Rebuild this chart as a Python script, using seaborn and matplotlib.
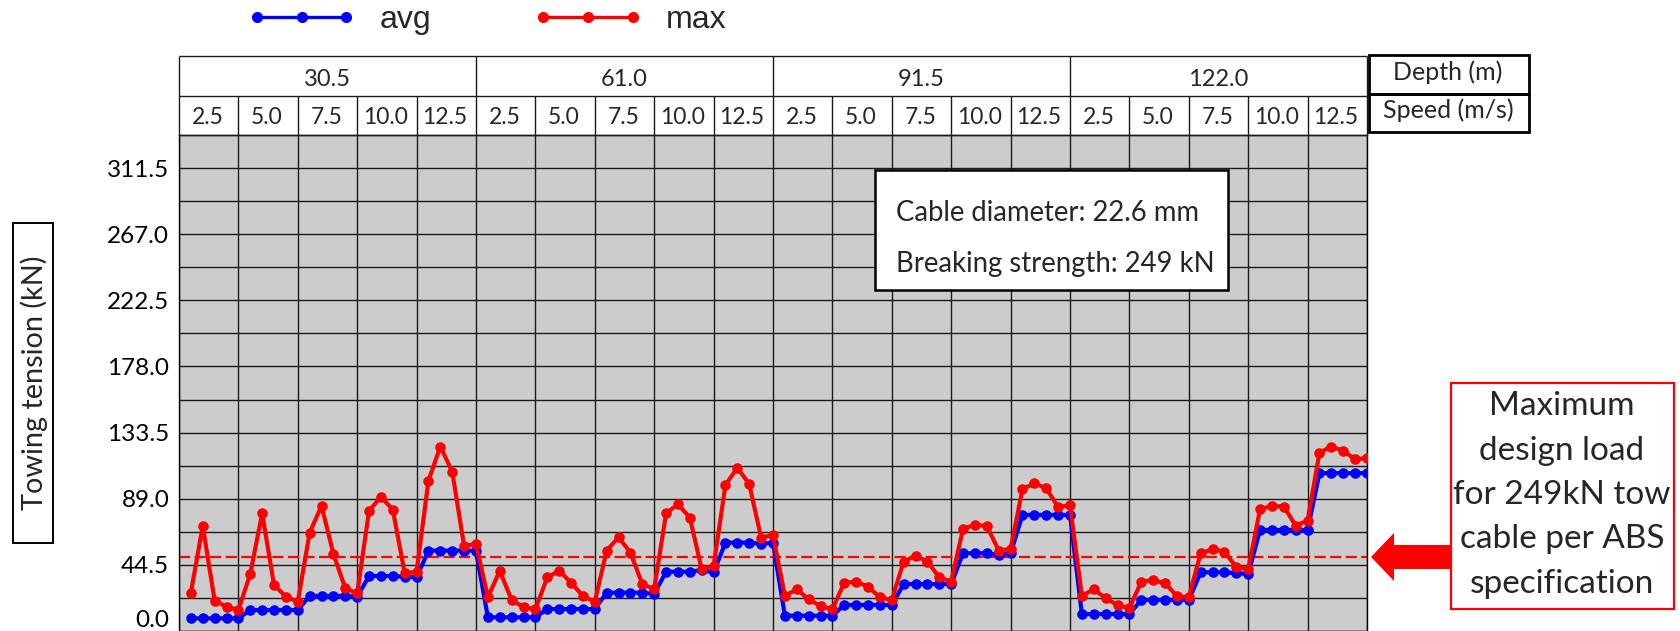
import numpy as np
import pandas as pd
import matplotlib
matplotlib.use("Agg")
import matplotlib.pyplot as plt
import seaborn as sns
from matplotlib.patches import Rectangle, Polygon
from matplotlib.lines import Line2D

# ---------------- data ----------------
depths = ["30.5", "61.0", "91.5", "122.0"]
speeds = ["2.5", "5.0", "7.5", "10.0", "12.5"]
ytick_values = [0.0, 44.5, 89.0, 133.5, 178.0, 222.5, 267.0, 311.5]
design_load = 49.8

avg_30_5 = [8.5, 8.5, 8.5, 8.5, 8.5,
            14.1, 14.1, 14.1, 14.1, 14.1,
            23.6, 23.6, 23.6, 23.6, 23.1,
            37.0, 37.0, 37.0, 36.5, 36.1,
            54.1, 54.1, 54.1, 54.1, 54.1]
avg_61_0 = [9.2, 9.2, 9.2, 9.2, 9.2,
            14.8, 14.8, 14.8, 14.8, 14.8,
            25.8, 25.8, 25.8, 25.8, 24.9,
            39.9, 39.9, 39.9, 41.0, 39.4,
            59.5, 59.5, 59.5, 58.6, 59.5]
avg_91_5 = [10.3, 10.3, 10.3, 10.3, 10.3,
            17.5, 17.5, 17.5, 17.5, 17.5,
            31.6, 31.6, 31.6, 31.6, 31.6,
            52.3, 52.3, 52.3, 51.2, 52.3,
            78.1, 78.1, 78.1, 78.1, 78.1]
avg_122_0 = [11.4, 11.4, 11.4, 11.4, 11.4,
             20.9, 20.9, 20.9, 20.9, 20.9,
             39.5, 39.5, 39.5, 38.9, 38.4,
             68.0, 68.0, 68.0, 68.0, 68.0,
             106.2, 106.2, 106.2, 106.2, 106.2]

max_30_5 = [25.8, 70.7, 20.4, 16.4, 14.1,
            38.4, 79.2, 31.0, 23.1, 19.7,
            66.2, 84.2, 51.8, 28.7, 25.4,
            80.8, 90.4, 81.5, 38.8, 39.9,
            101.2, 124.1, 107.2, 57.2, 58.6]
max_61_0 = [22.7, 40.4, 20.9, 16.0, 14.6,
            36.1, 40.6, 32.5, 23.6, 19.7,
            54.1, 63.1, 52.7, 31.6, 28.1,
            79.2, 85.3, 76.3, 41.5, 43.8,
            98.3, 109.9, 98.8, 62.8, 64.6]
max_91_5 = [23.6, 28.1, 21.3, 16.8, 14.6,
            32.5, 33.2, 29.8, 22.7, 20.9,
            46.7, 50.7, 46.7, 36.1, 33.2,
            68.9, 71.4, 70.7, 54.1, 55.2,
            95.4, 99.4, 96.1, 83.3, 84.8]
max_122_0 = [23.6, 28.1, 22.0, 17.5, 15.3,
             33.2, 34.3, 32.1, 23.6, 22.7,
             52.3, 55.0, 53.4, 42.9, 41.7,
             81.9, 84.2, 83.7, 70.9, 74.3,
             120.0, 124.1, 121.2, 115.6, 116.3]

avg_all = avg_30_5 + avg_61_0 + avg_91_5 + avg_122_0
max_all = max_30_5 + max_61_0 + max_91_5 + max_122_0
n = len(avg_all)
df = pd.DataFrame({
    "idx": list(range(1, n + 1)) * 2,
    "tension": avg_all + max_all,
    "series": ["avg"] * n + ["max"] * n,
})

# ---------------- style ----------------
sns.set_style("white")
plt.rcParams["font.family"] = ["Lato", "DejaVu Sans"]

W, H = 1680, 631
fig = plt.figure(figsize=(W / 100, H / 100), dpi=100)


def fx(px):
    return px / W


def fy(py):
    return 1 - py / H


left_px, right_px, top_px = 179, 1367, 135
ax = fig.add_axes([fx(left_px), 0, fx(right_px) - fx(left_px), fy(top_px)])
ax.set_facecolor("#cccccc")

sns.lineplot(data=df, x="idx", y="tension", hue="series",
             palette={"avg": "#0000ff", "max": "#ff0000"},
             hue_order=["avg", "max"], estimator=None, errorbar=None,
             marker="o", markersize=7.6, markeredgewidth=0,
             linewidth=3.0, ax=ax, legend=False, zorder=3)

ax.axhline(design_load, color="#ff0000", lw=1.6, ls=(0, (5, 2)), zorder=2.5)

ax.set_xlim(0, n)
ax.set_ylim(0, 333.75)
ax.set_xticks(np.arange(0, n + 1, 5))
ax.set_xticklabels([])
ax.set_yticks(ytick_values)
ax.set_yticklabels([f"{v:.1f}" for v in ytick_values])
ax.set_yticks(np.arange(22.25, 333.75, 44.5), minor=True)
ax.tick_params(axis="both", which="both", length=0)
ax.tick_params(axis="y", labelsize=17.5, pad=7, labelcolor="black")
ax.yaxis.get_ticklabels()[0].set_verticalalignment("bottom")
ax.grid(which="both", axis="both", color="#1a1a1a", lw=1.0)
ax.set_axisbelow(True)
ax.set_xlabel("")
ax.set_ylabel("")
for s in ax.spines.values():
    s.set_visible(True)
    s.set_color("black")
    s.set_linewidth(1.0)

# ---------------- header table ----------------
axh = fig.add_axes([fx(left_px), fy(top_px), fx(right_px) - fx(left_px), fy(56) - fy(top_px)])
axh.set_xlim(0, n)
axh.set_ylim(0, 2)
axh.axis("off")
lc = "#1a1a1a"
axh.hlines([0, 1, 2], 0, n, color=lc, lw=1.0, clip_on=False)
for x in range(0, n + 1, 5):
    if x % 25 == 0:
        axh.vlines(x, 0, 2, color=lc, lw=1.0, clip_on=False)
    else:
        axh.vlines(x, 0, 1, color=lc, lw=1.0, clip_on=False)
for i, d in enumerate(depths):
    axh.text(12.5 + 25 * i, 1.24, d, ha="center", va="baseline", fontsize=17)
    for j, s in enumerate(speeds):
        axh.text(25 * i + 5 * j + 2.4, 0.27, s, ha="center", va="baseline", fontsize=16.5)

# Depth / Speed boxes
fig.patches.append(Rectangle((fx(1369), fy(94)), fx(1529) - fx(1369), fy(55) - fy(94),
                             transform=fig.transFigure, fill=False, ec="black", lw=2))
fig.patches.append(Rectangle((fx(1369), fy(132)), fx(1529) - fx(1369), fy(94) - fy(132),
                             transform=fig.transFigure, fill=False, ec="black", lw=2))
fig.text(fx(1448), fy(80), "Depth (m)", ha="center", va="baseline", fontsize=18)
fig.text(fx(1448), fy(118), "Speed (m/s)", ha="center", va="baseline", fontsize=18)

# ---------------- y label box ----------------
fig.patches.append(Rectangle((fx(13), fy(543)), fx(53) - fx(13), fy(223) - fy(543),
                             transform=fig.transFigure, fill=False, ec="black", lw=1.4))
fig.text(fx(34), fy(383), "Towing tension (kN)", rotation=90, ha="center", va="center",
         fontsize=20.8)

# ---------------- legend ----------------
handles = [Line2D([], [], color="#0000ff", lw=2.4, marker="o", markersize=7),
           Line2D([], [], color="#ff0000", lw=2.4, marker="o", markersize=7)]
fig.legend(handles, ["avg", "max"], loc="center", bbox_to_anchor=(fx(487), fy(20)),
           ncol=2, frameon=False, numpoints=3, handlelength=3.4, handletextpad=0.75,
           columnspacing=3.2, prop={"family": "Liberation Sans", "size": 23},
           borderaxespad=0, borderpad=0)

# ---------------- info box ----------------
fig.patches.append(Rectangle((fx(875), fy(290)), fx(1228) - fx(875), fy(170) - fy(290),
                             transform=fig.transFigure, fc="white", ec="black", lw=1.8,
                             zorder=5))
fig.text(fx(896), fy(221), "Cable diameter: 22.6 mm", ha="left", va="baseline",
         fontsize=19.8, zorder=6)
fig.text(fx(896), fy(272), "Breaking strength: 249 kN", ha="left", va="baseline",
         fontsize=19.8, zorder=6)

# ---------------- design-load annotation ----------------
fig.patches.append(Rectangle((fx(1451), fy(609)), fx(1674) - fx(1451), fy(383) - fy(609),
                             transform=fig.transFigure, fc="white", ec="#ff0000", lw=1.6))
fig.text(fx(1562), fy(495), "Maximum\ndesign load\nfor 249kN tow\ncable per ABS\nspecification",
         ha="center", va="center", fontsize=24, linespacing=1.6)

# arrow pointing to the design-load line
y_line_px = H - ax.transData.transform((0, design_load))[1]
tip = 1371
arrow_pts = [(tip, y_line_px), (tip + 23, y_line_px - 24), (tip + 23, y_line_px - 12),
             (1451, y_line_px - 12), (1451, y_line_px + 12), (tip + 23, y_line_px + 12),
             (tip + 23, y_line_px + 24)]
fig.patches.append(Polygon([(fx(px), fy(py)) for px, py in arrow_pts], closed=True,
                           transform=fig.transFigure, fc="#ff0000", ec="none"))

fig.savefig("out.png", dpi=100)
